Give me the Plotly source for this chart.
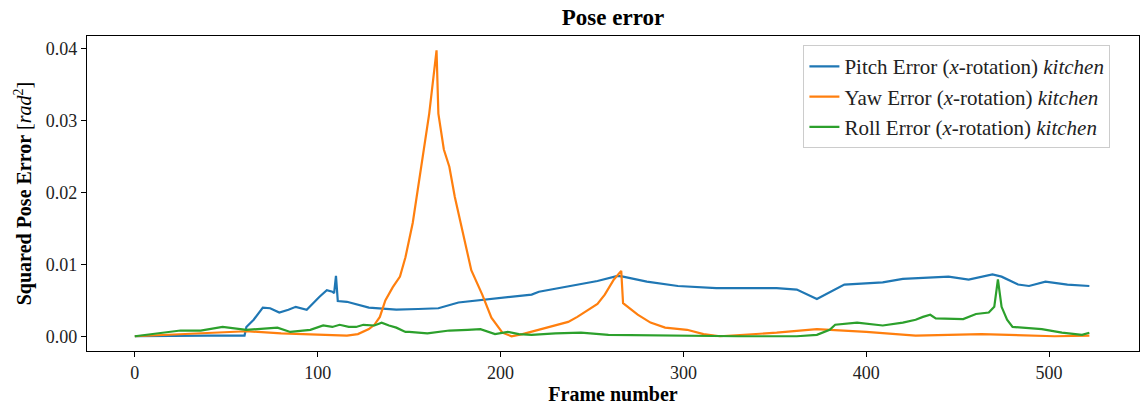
import plotly.graph_objects as go

pitch_frames = [0, 20, 40, 60, 61, 65, 70, 74, 79, 84, 88, 94, 97, 101, 105, 108, 109, 110, 111, 116, 128, 143, 155, 166, 177, 193, 199, 217, 221, 237, 253, 264, 267, 280, 297, 318, 340, 351, 362, 373, 388, 409, 420, 445, 456, 469, 474, 483, 489, 498, 510, 522]
pitch_values = [0.0, 0.0001, 0.0001, 0.0001, 0.0013, 0.0023, 0.0040, 0.0039, 0.0033, 0.0037, 0.0041, 0.0037, 0.0045, 0.0055, 0.0064, 0.0062, 0.0060, 0.0084, 0.0049, 0.0048, 0.0040, 0.0037, 0.0038, 0.0039, 0.0047, 0.0051, 0.0053, 0.0058, 0.0062, 0.0069, 0.0077, 0.0084, 0.0083, 0.0076, 0.0070, 0.0067, 0.0067, 0.0067, 0.0065, 0.0052, 0.0072, 0.0075, 0.0080, 0.0083, 0.0079, 0.0086, 0.0083, 0.0072, 0.0070, 0.0076, 0.0072, 0.0070]

yaw_frames = [0, 9, 20, 40, 59, 61, 80, 100, 116, 122, 128, 131, 134, 137, 141, 145, 148, 152, 156, 161, 165, 166, 169, 172, 175, 180, 184, 190, 195, 201, 206, 212, 221, 226, 237, 242, 253, 257, 262, 266, 267, 275, 282, 290, 302, 311, 320, 351, 373, 400, 427, 463, 503, 522]
yaw_values = [0.0, 0.0001, 0.0002, 0.0004, 0.0006, 0.0007, 0.0004, 0.0002, 0.0001, 0.0003, 0.0010, 0.0016, 0.0027, 0.0050, 0.0068, 0.0083, 0.0110, 0.0158, 0.0227, 0.0310, 0.0398, 0.0310, 0.0260, 0.0236, 0.0194, 0.0138, 0.0092, 0.0058, 0.0026, 0.0005, 0.0, 0.0003, 0.0009, 0.0013, 0.0020, 0.0027, 0.0045, 0.0058, 0.0079, 0.0091, 0.0046, 0.0030, 0.0019, 0.0012, 0.0009, 0.0003, 0.0, 0.0005, 0.0010, 0.0006, 0.0001, 0.0003, 0.0, 0.0001]

roll_frames = [0, 9, 16, 25, 36, 48, 61, 70, 78, 85, 96, 103, 108, 112, 117, 121, 125, 131, 135, 139, 143, 148, 150, 160, 172, 182, 189, 197, 204, 210, 217, 230, 244, 259, 290, 330, 362, 370, 373, 380, 383, 395, 409, 420, 427, 431, 435, 438, 453, 460, 467, 470, 472, 474, 477, 480, 496, 507, 518, 522]
roll_values = [0.0, 0.0003, 0.0006, 0.0008, 0.0008, 0.0013, 0.0009, 0.0011, 0.0012, 0.0006, 0.0009, 0.0015, 0.0013, 0.0016, 0.0013, 0.0013, 0.0016, 0.0015, 0.0019, 0.0015, 0.0012, 0.0006, 0.0006, 0.0004, 0.0008, 0.0009, 0.0010, 0.0003, 0.0006, 0.0003, 0.0002, 0.0004, 0.0005, 0.0002, 0.0001, 0.0, 0.0, 0.0002, 0.0002, 0.0009, 0.0016, 0.0019, 0.0015, 0.0019, 0.0023, 0.0027, 0.0030, 0.0025, 0.0024, 0.0031, 0.0033, 0.0041, 0.0079, 0.0041, 0.0023, 0.0013, 0.0010, 0.0005, 0.0002, 0.0005]

series_names = [
    "Pitch Error (<i>x</i>-rotation) <i>kitchen</i>",
    "Yaw Error (<i>x</i>-rotation) <i>kitchen</i>",
    "Roll Error (<i>x</i>-rotation) <i>kitchen</i>",
]
x_ticks = [0, 100, 200, 300, 400, 500]
y_ticks = [0.0, 0.01, 0.02, 0.03, 0.04]

FONT = "Liberation Serif"
colors = ["#1f77b4", "#ff7f0e", "#2ca02c"]

fig = go.Figure()
for xs, ys, name, c in zip([pitch_frames, yaw_frames, roll_frames],
                           [pitch_values, yaw_values, roll_values],
                           series_names, colors):
    fig.add_trace(go.Scatter(x=xs, y=ys, mode="lines", name=name,
                             line=dict(color=c, width=2.2)))

fig.update_layout(
    width=1140, height=407,
    margin=dict(l=87, r=1, t=36, b=56),
    paper_bgcolor="white", plot_bgcolor="white",
    font=dict(family=FONT, size=18, color="#222222"),
    title=dict(text="<b>Pose error</b>", x=0.5, xref="paper", y=0.958, yref="container",
               xanchor="center", yanchor="middle", font=dict(size=23, family=FONT, color="black")),
    legend=dict(x=0.681, y=0.971, xanchor="left", yanchor="top",
                bgcolor="rgba(255,255,255,0.8)", bordercolor="#cccccc", borderwidth=1,
                font=dict(size=21, family=FONT, color="#222222"), tracegroupgap=0),
    showlegend=True,
)
fig.update_xaxes(range=[-26.15, 549.15], tickvals=x_ticks, ticks="outside", ticklen=5,
                 tickcolor="black", showline=True, linecolor="black", linewidth=1.2,
                 mirror=True, showgrid=False, zeroline=False, automargin=False,
                 tickfont=dict(size=18),
                 title=dict(text="<b>Frame number</b>", standoff=4, font=dict(size=20, color="black")))
fig.update_yaxes(range=[-0.00205, 0.0418], tickvals=y_ticks, tickformat=".2f", ticks="outside",
                 ticklen=5, tickcolor="black", showline=True, linecolor="black", linewidth=1.2,
                 mirror=True, showgrid=False, zeroline=False, automargin=False,
                 tickfont=dict(size=18),
                 title=dict(text="<b>Squared Pose Error</b> [<i>rad</i><sup>2</sup>]", standoff=8,
                            font=dict(size=20, color="black")))

fig.write_html("out.html", config={"displayModeBar": False},
               post_script="document.body.style.margin='0';document.body.style.overflow='hidden';")
